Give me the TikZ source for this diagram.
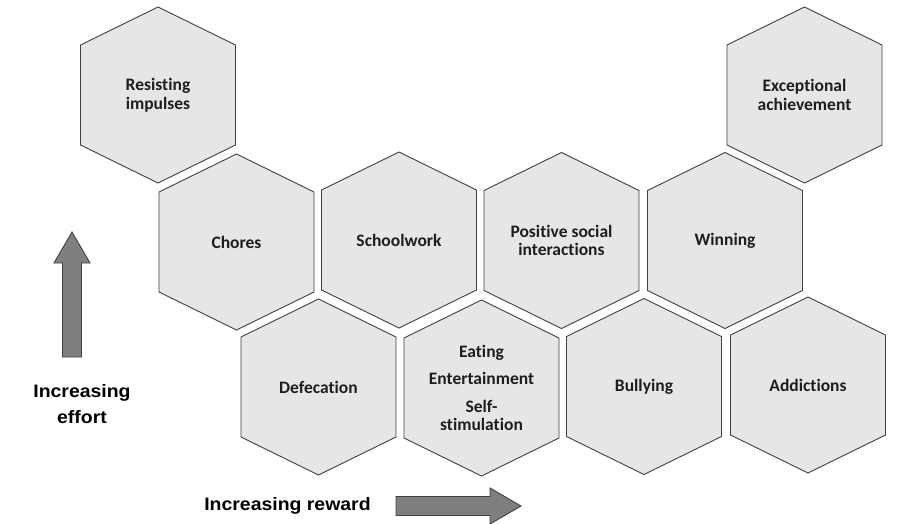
\documentclass[tikz,border=0pt]{standalone}
\usepackage{fontspec}
\newfontfamily\carlitofont[Ligatures={NoCommon}]{Carlito}
\newfontfamily\arialfont{Liberation Sans}
\definecolor{hexfill}{HTML}{E6E6E6}
\definecolor{hexline}{HTML}{404040}
\definecolor{arrowfill}{HTML}{7F7F7F}
\definecolor{hextextcol}{HTML}{1E1E1E}
\tikzset{
  hexshape/.style={fill=hexfill, draw=hexline, line width=0.9pt, line join=miter},
  hextext/.style={align=center, inner sep=0pt, text=hextextcol,
    font=\carlitofont\bfseries\fontsize{17.5}{18.5}\selectfont},
  bigarrow/.style={fill=arrowfill, draw=hexline, line width=0.9pt},
  axislabel/.style={align=center, inner sep=0pt, text=black,
    font=\arialfont\bfseries\fontsize{18}{25.5}\selectfont}
}
\newcommand\hexcell[4]{%
  \begin{scope}[shift={(#2,#3)}]
    \draw[hexshape] (0,-88) -- (77.5,-50) -- (77.5,50) -- (0,88) -- (-77.5,50) -- (-77.5,-50) -- cycle;
    \node[hextext] (#1) at (0,0) {#4};
  \end{scope}}
\begin{document}
\begin{tikzpicture}[x=1pt,y=-1pt]
\useasboundingbox (0,0) rectangle (910,523);
\fill[white] (0,0) rectangle (910,523);
% row 1
\hexcell{resisting}{158}{95}{Resisting\\impulses}
\hexcell{exceptional}{804.5}{95}{Exceptional\\achievement}
% row 2
\hexcell{chores}{236.5}{242}{Chores}
\hexcell{schoolwork}{399}{240}{Schoolwork}
\hexcell{positive}{561.5}{240.5}{Positive social\\interactions}
\hexcell{winning}{725}{240.5}{Winning}
% row 3
\hexcell{defecation}{318.5}{387}{Defecation}
\hexcell{eating}{481.5}{388}{Eating\\[9pt]Entertainment\\[9pt]Self-\\stimulation}
\hexcell{bullying}{644}{386.5}{Bullying}
\hexcell{addictions}{808}{385}{Addictions}
% vertical arrow (effort)
\draw[bigarrow] (62.5,357) -- (62.5,263) -- (54,263) -- (72,232) -- (90,263) -- (81.5,263) -- (81.5,357) -- cycle;
% horizontal arrow (reward)
\draw[bigarrow] (396,496.5) -- (490,496.5) -- (490,488) -- (521,506) -- (490,524) -- (490,515.5) -- (396,515.5) -- cycle;
% labels
\node[axislabel, anchor=north] (effort) at (82,384.5) {\scalebox{1.08}[1]{Increasing}\\\scalebox{1.08}[1]{effort}};
\node[axislabel, anchor=base] (reward) at (287.5,510) {\scalebox{1.08}[1]{Increasing reward}};
\end{tikzpicture}
\end{document}
